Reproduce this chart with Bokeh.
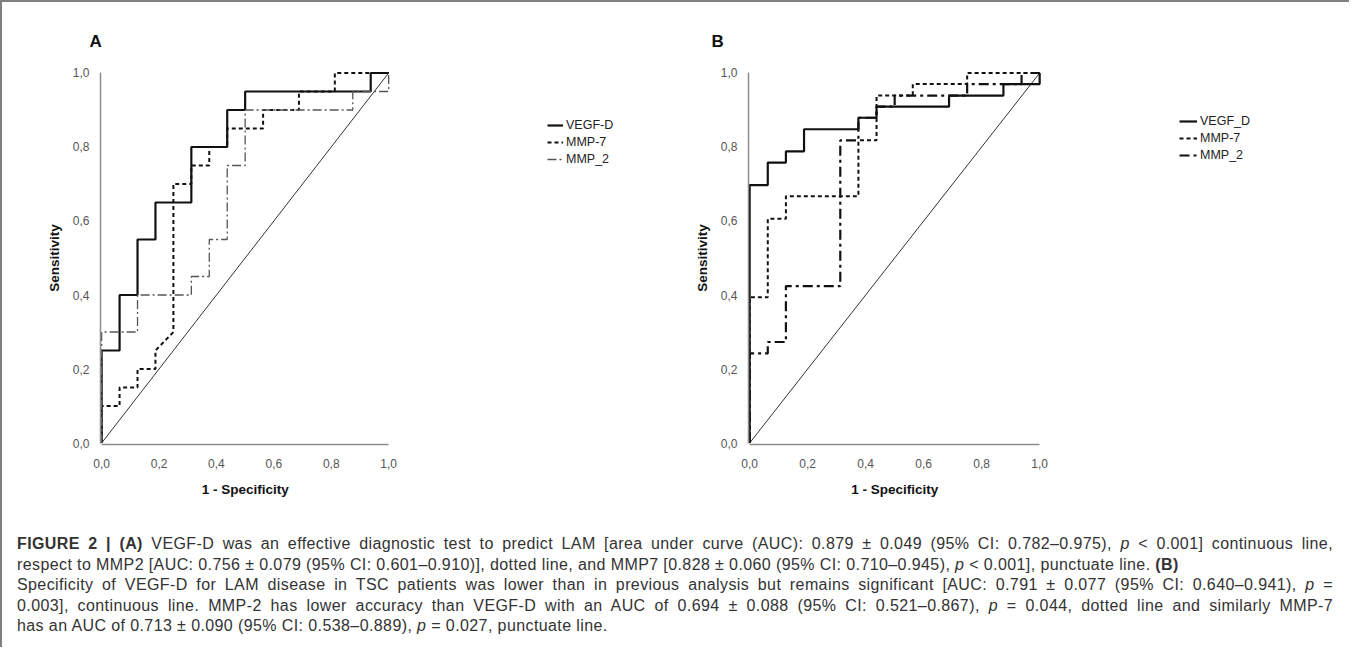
from bokeh.plotting import figure
from bokeh.models import Range1d, FixedTicker, Legend, LegendItem, Div, Title
from bokeh.layouts import column, row
from bokeh.embed import file_html
from bokeh.resources import INLINE

# ---------------- data (ROC vertices: 1 - specificity, sensitivity) ----------------
ticks = [0.0, 0.2, 0.4, 0.6, 0.8, 1.0]
tick_labels = ["0,0", "0,2", "0,4", "0,6", "0,8", "1,0"]
chance = [0.0, 1.0]

# Panel A
a_vegf_fpr = [0, 0, 0.0625, 0.0625, 0.125, 0.125, 0.1875, 0.1875, 0.3125, 0.3125, 0.4375, 0.4375, 0.5, 0.5, 0.9375, 0.9375, 1.0]
a_vegf_tpr = [0, 0.25, 0.25, 0.40, 0.40, 0.55, 0.55, 0.65, 0.65, 0.80, 0.80, 0.90, 0.90, 0.95, 0.95, 1.0, 1.0]
a_mmp7_fpr = [0, 0, 0.0625, 0.0625, 0.125, 0.125, 0.1875, 0.1875, 0.25, 0.25, 0.3125, 0.3125, 0.375, 0.375, 0.4375, 0.4375, 0.5625, 0.5625, 0.6875, 0.6875, 0.8125, 0.8125, 1.0]
a_mmp7_tpr = [0, 0.10, 0.10, 0.15, 0.15, 0.20, 0.20, 0.25, 0.30, 0.70, 0.70, 0.75, 0.75, 0.80, 0.80, 0.85, 0.85, 0.90, 0.90, 0.95, 0.95, 1.0, 1.0]
a_mmp2_fpr = [0, 0, 0.125, 0.125, 0.3125, 0.3125, 0.375, 0.375, 0.4375, 0.4375, 0.5, 0.5, 0.875, 0.875, 1.0, 1.0]
a_mmp2_tpr = [0, 0.30, 0.30, 0.40, 0.40, 0.45, 0.45, 0.55, 0.55, 0.75, 0.75, 0.90, 0.90, 0.95, 0.95, 1.0]

# Panel B
b_vegf_fpr = [0, 0, 0.0625, 0.0625, 0.125, 0.125, 0.1875, 0.1875, 0.375, 0.375, 0.4375, 0.4375, 0.6875, 0.6875, 0.875, 0.875, 1.0, 1.0]
b_vegf_tpr = [0, 0.697, 0.697, 0.758, 0.758, 0.788, 0.788, 0.848, 0.848, 0.879, 0.879, 0.909, 0.909, 0.939, 0.939, 0.970, 0.970, 1.0]
b_mmp7_fpr = [0, 0, 0.0625, 0.0625, 0.125, 0.125, 0.375, 0.375, 0.4375, 0.4375, 0.5625, 0.5625, 0.75, 0.75, 1.0]
b_mmp7_tpr = [0, 0.394, 0.394, 0.606, 0.606, 0.667, 0.667, 0.818, 0.818, 0.939, 0.939, 0.970, 0.970, 1.0, 1.0]
b_mmp2_fpr = [0, 0, 0.0625, 0.0625, 0.125, 0.125, 0.3125, 0.3125, 0.375, 0.375, 0.4375, 0.4375, 0.5, 0.5, 0.75, 0.75, 0.9375, 0.9375, 1.0]
b_mmp2_tpr = [0, 0.242, 0.242, 0.273, 0.273, 0.424, 0.424, 0.818, 0.818, 0.879, 0.879, 0.909, 0.909, 0.939, 0.939, 0.970, 0.970, 1.0, 1.0]

legend_a = ["VEGF-D", "MMP-7", "MMP_2"]
legend_b = ["VEGF_D", "MMP-7", "MMP_2"]
x_title = "1 - Specificity"
y_title = "Sensitivity"

caption_lines = [
    '<b>FIGURE 2 | (A)</b> VEGF-D was an effective diagnostic test to predict LAM [area under curve (AUC): 0.879 &plusmn; 0.049 (95% CI: 0.782&ndash;0.975), <i>p</i> &lt; 0.001] continuous line,',
    'respect to MMP2 [AUC: 0.756 &plusmn; 0.079 (95% CI: 0.601&ndash;0.910)], dotted line, and MMP7 [0.828 &plusmn; 0.060 (95% CI: 0.710&ndash;0.945), <i>p</i> &lt; 0.001], punctuate line. <b>(B)</b>',
    'Specificity of VEGF-D for LAM disease in TSC patients was lower than in previous analysis but remains significant [AUC: 0.791 &plusmn; 0.077 (95% CI: 0.640&ndash;0.941), <i>p</i> =',
    '0.003], continuous line. MMP-2 has lower accuracy than VEGF-D with an AUC of 0.694 &plusmn; 0.088 (95% CI: 0.521&ndash;0.867), <i>p</i> = 0.044, dotted line and similarly MMP-7',
    'has an AUC of 0.713 &plusmn; 0.090 (95% CI: 0.538&ndash;0.889), <i>p</i> = 0.027, punctuate line.',
]
justify_lines = [True, False, True, True, False]

FONT = "Liberation Sans"
PAD = 0.004
XTITLE_W = 87  # approx rendered width of the x title (bold 13.5px)
FIG_H = 508


def make_panel(width, mleft, unit_px, mtop, fh, curves, names, letter, letter_off,
               leg_loc, leg_glyph_w):
    # frame spans from the y axis to near the right edge of the canvas so the
    # legend (an in-frame annotation) is visible; data 0..1 occupies unit_px pixels
    mright = 10
    fw = width - mleft - mright
    p = figure(width=width, height=FIG_H, output_backend="svg", toolbar_location=None,
               x_range=Range1d(-PAD, -PAD + fw / unit_px),
               y_range=Range1d(-PAD, 1 + PAD),
               min_border_left=mleft, min_border_right=mright,
               min_border_top=mtop, min_border_bottom=FIG_H - mtop - fh)
    p.grid.visible = False
    p.outline_line_color = None
    for ax in (p.xaxis[0], p.yaxis[0]):
        ax.ticker = FixedTicker(ticks=ticks)
        ax.major_label_overrides = dict(zip(ticks, tick_labels))
        ax.bounds = (0, 1)
        ax.axis_line_color = "#8c8c8c"
        ax.axis_line_width = 1.5
        ax.major_tick_line_color = None
        ax.minor_tick_line_color = None
        ax.major_label_text_font = FONT
        ax.major_label_text_font_size = "12px"
        ax.major_label_text_color = "#555555"
        ax.axis_label_text_font = FONT
        ax.axis_label_text_font_style = "bold"
        ax.axis_label_text_font_size = "13.5px"
        ax.axis_label_text_color = "#111111"
    p.yaxis.axis_label = y_title
    p.xaxis.major_label_standoff = 8
    p.yaxis.major_label_standoff = 5
    p.yaxis.axis_label_standoff = 8

    # x-axis title, centred under the 0..1 part of the axis
    off = PAD * unit_px + 0.5 * unit_px - XTITLE_W / 2
    p.add_layout(Title(text=x_title, align="left", offset=off, standoff=18,
                       text_font=FONT, text_font_style="bold", text_font_size="13.5px",
                       text_color="#111111"), "below")

    # panel letter as the plot title
    p.title.text = letter
    p.title.align = "left"
    p.title.offset = letter_off
    p.title.standoff = 41
    p.title.text_font = FONT
    p.title.text_font_style = "bold"
    p.title.text_font_size = "17px"
    p.title.text_color = "#111111"

    p.line(chance, chance, line_color="#333333", line_width=1)
    renderers = []
    for (xs, ys, color, lw, dash) in curves:
        renderers.append(p.line(xs, ys, line_color=color, line_width=lw, line_dash=dash))
    items = [LegendItem(label=n, renderers=[r]) for n, r in zip(names, renderers)]
    leg = Legend(items=items, location=leg_loc, glyph_width=leg_glyph_w, glyph_height=16,
                 label_height=16, spacing=1, padding=0, margin=0, label_standoff=3,
                 label_text_font=FONT, label_text_font_size="12.5px",
                 label_text_color="#222222", border_line_color=None, background_fill_alpha=0)
    p.add_layout(leg)
    return p


curves_a = [
    (a_vegf_fpr, a_vegf_tpr, "#111111", 2.2, "solid"),
    (a_mmp7_fpr, a_mmp7_tpr, "#111111", 2.0, "4 3"),
    (a_mmp2_fpr, a_mmp2_tpr, "#555555", 1.3, "9 3 2 3"),
]
curves_b = [
    (b_vegf_fpr, b_vegf_tpr, "#111111", 2.2, "solid"),
    (b_mmp7_fpr, b_mmp7_tpr, "#111111", 2.0, "4 3"),
    (b_mmp2_fpr, b_mmp2_tpr, "#111111", 2.2, "10 4 3 4"),
]

# A: axis at x=108, 287 px per unit; B: axis at x=756, 290 px per unit; y 79..452
pa = make_panel(671, 98, 287, 69, 373, curves_a, legend_a, "A", -11, (447, 277), 16)
pb = make_panel(666, 75, 290, 69, 373, curves_b, legend_b, "B", -37, (431, 281), 18)

html_lines = []
for line, just in zip(caption_lines, justify_lines):
    al = "justify" if just else "left"
    html_lines.append(
        f'<div style="white-space:nowrap;text-align:{al};text-align-last:{al};">{line}</div>')
caption_html = (
    '<div style="margin-top:19px;margin-left:10px;width:1316px;font-family:\'Liberation Sans\',sans-serif;'
    'font-size:16px;line-height:20.5px;color:#333333;letter-spacing:0.4px;">'
    + "".join(html_lines) + '</div>')
cap = Div(text=caption_html, width=1337, height=127)

layout = column(row(pa, pb), cap,
                styles={"border-top": "2px solid #808080", "border-left": "2px solid #808080"})

open("out.html", "w").write(file_html(layout, INLINE))
